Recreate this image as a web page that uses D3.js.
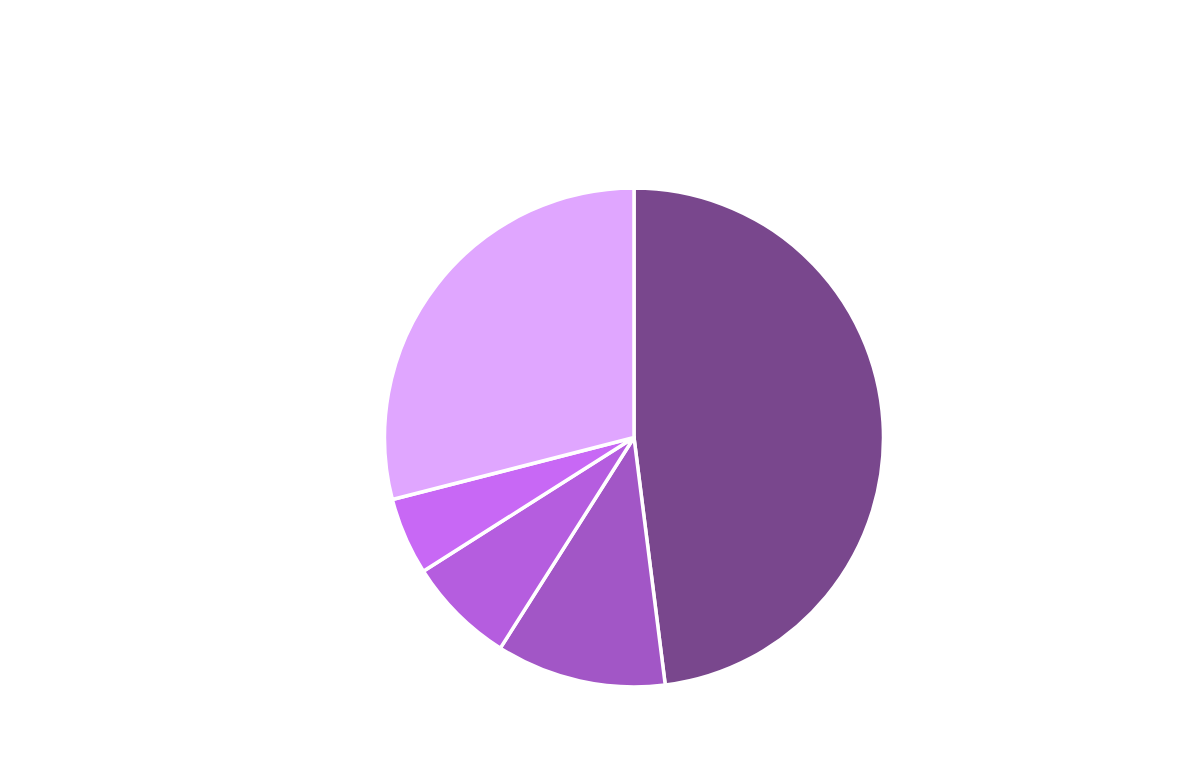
<!DOCTYPE html>
<html>
<head>
<meta charset="utf-8">
<script src="https://cdn.jsdelivr.net/npm/d3@7"></script>
<style>
  body { margin: 0; background: #fff; }
</style>
</head>
<body>
<div id="chart"></div>
<script>
var width = 1200;
var height = 772;

// slice data, clockwise from 12 o'clock
var categories = ['A', 'B', 'C', 'D', 'E'];
var values = [48, 11, 7, 5, 29];
var colors = ['#79478d', '#a256c6', '#b55ddf', '#c868f5', '#e0a6ff'];

var svg = d3.select('#chart')
    .append('svg')
    .attr('width', width)
    .attr('height', height);

var radius = 249.5;

var g = svg.append('g')
    .attr('transform', 'translate(634, 437.5)');

var color = d3.scaleOrdinal()
    .domain(categories)
    .range(colors);

var pie = d3.pie()
    .sort(null)
    .value(d => d[1]);

var arc = d3.arc()
    .innerRadius(0)
    .outerRadius(radius);

g.selectAll('path')
    .data(pie(categories.map((c, i) => [c, values[i]])))
    .join('path')
    .attr('d', arc)
    .attr('fill', d => color(d.data[0]))
    .attr('stroke', 'white')
    .style('stroke-width', '3.5px')
    .style('stroke-linejoin', 'round');
</script>
</body>
</html>
